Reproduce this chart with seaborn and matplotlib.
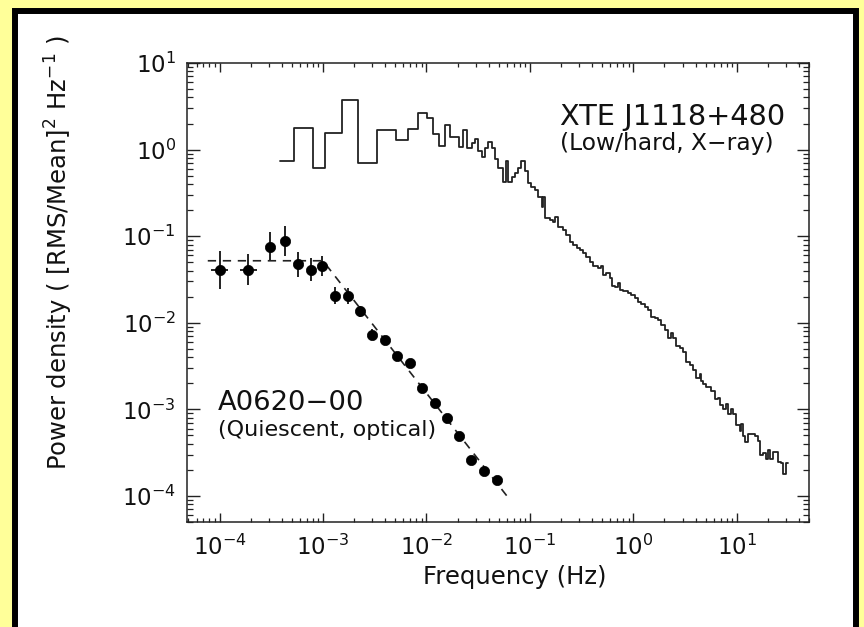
import numpy as np
import pandas as pd
import matplotlib
matplotlib.use("Agg")
import matplotlib.pyplot as plt
from matplotlib.patches import Rectangle
import seaborn as sns

# ---------------- data ----------------
# A0620-00 (quiescent, optical) power density points
a0620_freq = [1.0e-4, 1.9e-4, 3.1e-4, 4.3e-4, 5.7e-4, 7.6e-4, 9.9e-4, 1.31e-3, 1.73e-3,
              2.28e-3, 2.99e-3, 3.97e-3, 5.22e-3, 6.89e-3, 9.12e-3, 1.20e-2, 1.57e-2,
              2.08e-2, 2.73e-2, 3.60e-2, 4.80e-2]
a0620_power = [0.0407, 0.0407, 0.0753, 0.0869, 0.0477, 0.0407, 0.0452, 0.0206, 0.0205,
               0.0135, 0.00728, 0.00626, 0.00418, 0.00344, 0.00177, 0.00119, 7.94e-4,
               4.86e-4, 2.59e-4, 1.94e-4, 1.54e-4]
a0620_power_lo = [0.0244, 0.0274, 0.052, 0.059, 0.034, 0.030, 0.035, 0.0165, 0.0166,
                  0.0118, 0.0063, 0.0055, 0.0038, 0.0031, 0.00162, 0.00109, 7.3e-4,
                  4.5e-4, 2.4e-4, 1.8e-4, 1.43e-4]
a0620_power_hi = [0.0676, 0.0616, 0.112, 0.130, 0.066, 0.0555, 0.059, 0.026, 0.0255,
                  0.0155, 0.0084, 0.0071, 0.0046, 0.0038, 0.00193, 0.00130, 8.6e-4,
                  5.3e-4, 2.8e-4, 2.1e-4, 1.66e-4]
a0620_freq_lo = [8.3e-5, 1.59e-4] + a0620_freq[2:]
a0620_freq_hi = [1.2e-4, 2.29e-4] + a0620_freq[2:]

# broken power-law model (dashed line)
model_freq = [7.7e-5, 1.0e-3, 6.0e-2]
model_power = [0.052, 0.052, 1.0e-4]

# XTE J1118+480 (low/hard, X-ray) binned power spectrum: left bin edges and power
xte_edges = [3.84e-4, 5.28e-4, 7.95e-4, 1.045e-3, 1.537e-3, 2.19e-3, 3.35e-3, 5.11e-3,
             6.67e-3, 8.28e-3, 1.004e-2, 1.163e-2, 1.312e-2, 1.509e-2, 1.687e-2,
             2.075e-2, 2.268e-2, 2.446e-2, 2.734e-2, 2.942e-2, 3.166e-2, 3.415e-2,
             3.675e-2, 3.955e-2, 4.266e-2, 4.589e-2, 4.94e-2, 5.48e-2, 5.93e-2, 6.13e-2,
             6.70e-2, 7.16e-2, 7.66e-2, 8.19e-2, 8.95e-2, 9.63e-2, 0.1038, 0.1118,
             0.1203, 0.1297, 0.1344, 0.1396, 0.1561, 0.1668, 0.1744, 0.1877, 0.2097,
             0.2262, 0.2435, 0.2620, 0.2827, 0.3042, 0.3273, 0.3530, 0.380, 0.409,
             0.457, 0.493, 0.511, 0.551, 0.593, 0.624, 0.663, 0.713, 0.752, 0.797,
             0.891, 0.961, 1.034, 1.113, 1.200, 1.291, 1.390, 1.499, 1.613, 1.736,
             1.873, 2.015, 2.169, 2.340, 2.424, 2.615, 2.814, 3.029, 3.266, 3.515,
             3.783, 4.08, 4.39, 4.56, 4.72, 5.10, 5.70, 6.13, 6.60, 6.85, 7.37, 7.95,
             8.24, 8.89, 9.21, 9.93, 10.69, 11.10, 11.51, 12.11, 12.86, 14.93, 16.06,
             16.68, 17.95, 19.36, 20.06, 21.17, 22.42, 25.06, 27.04, 28.02, 30.22, 31.1]
xte_power = [0.747, 1.776, 0.610, 1.568, 3.727, 0.703, 1.684, 1.279, 1.712, 2.613, 2.314,
             1.515, 1.112, 1.938, 1.385, 1.063, 1.684, 1.046, 1.181, 1.327, 0.974,
             0.831, 1.054, 1.236, 1.054, 0.788, 0.605, 0.4175, 0.747, 0.4175, 0.4767,
             0.530, 0.621, 0.747, 0.559, 0.4066, 0.366, 0.338, 0.2807, 0.2154, 0.2807,
             0.161, 0.1527, 0.1448, 0.1654, 0.1269, 0.1172, 0.1027, 0.0853, 0.0788,
             0.0728, 0.0690, 0.0638, 0.0574, 0.0503, 0.0452, 0.0429, 0.0452, 0.0356,
             0.0376, 0.0329, 0.0266, 0.0259, 0.0288, 0.0239, 0.0233, 0.0221, 0.0210,
             0.0194, 0.01743, 0.01654, 0.01527, 0.01411, 0.01172, 0.01141, 0.01083,
             0.00948, 0.00831, 0.00672, 0.00767, 0.00672, 0.00544, 0.00516, 0.00464,
             0.00356, 0.00329, 0.00288, 0.00233, 0.00253, 0.00210, 0.00194, 0.00179,
             0.00161, 0.00130, 0.00137, 0.00111, 0.00100, 0.00114, 0.000876, 0.00100,
             0.000876, 0.000655, 0.000559, 0.000672, 0.000490, 0.000418, 0.000516,
             0.000490, 0.000429, 0.000296, 0.000312, 0.000266, 0.000338, 0.000266,
             0.000320, 0.000246, 0.000239, 0.000179, 0.000239]

x_ticks = [1e-4, 1e-3, 1e-2, 1e-1, 1e0, 1e1]
y_ticks = [1e-4, 1e-3, 1e-2, 1e-1, 1e0, 1e1]

# ---------------- figure ----------------
sns.set_theme(style="ticks")
plt.rcParams["font.family"] = ["DejaVu Sans"]
plt.rcParams["mathtext.fontset"] = "dejavusans"

W, H = 864, 627
fig = plt.figure(figsize=(W / 100, H / 100), dpi=100, facecolor="#FFFF99")

# white panel with thick black frame (runs off the bottom)
panel = Rectangle((15 / W, -0.05), (856 - 15) / W, 1.05 - 11 / H, transform=fig.transFigure,
                  facecolor="white", edgecolor="black", linewidth=4.3, zorder=-10)
fig.patches.append(panel)

ax = fig.add_axes([187 / W, 1 - 522 / H, (809 - 187) / W, (522 - 63) / H])
ax.set_zorder(5)
ax.set_facecolor("none")
ax.patch.set_alpha(0)
ax.set_xscale("log")
ax.set_yscale("log")

# XTE J1118+480 histogram
xte_df = pd.DataFrame({"f": xte_edges, "p": xte_power + [xte_power[-1]]})
sns.lineplot(data=xte_df, x="f", y="p", ax=ax, color="#222222", lw=1.3,
             drawstyle="steps-post", estimator=None, sort=False)

# model dashed line
model_df = pd.DataFrame({"f": model_freq, "p": model_power})
sns.lineplot(data=model_df, x="f", y="p", ax=ax, color="#222222", lw=1.2,
             linestyle=(0, (5, 4)), estimator=None, sort=False)

# A0620-00 points with error bars
fa = np.array(a0620_freq)
pa = np.array(a0620_power)
yerr = [pa - np.array(a0620_power_lo), np.array(a0620_power_hi) - pa]
xerr = [fa - np.array(a0620_freq_lo), np.array(a0620_freq_hi) - fa]
ax.errorbar(fa, pa, yerr=yerr, xerr=xerr, fmt="none", ecolor="#222222", elinewidth=1.4,
            capsize=0, zorder=3)
a_df = pd.DataFrame({"f": a0620_freq, "p": a0620_power})
sns.scatterplot(data=a_df, x="f", y="p", ax=ax, color="black", s=55, edgecolor="black",
                linewidth=0.5, zorder=4)

ax.set_xlim(4.85e-5, 50)
ax.set_ylim(5.0e-5, 10)
ax.set_xticks(x_ticks)
ax.set_yticks(y_ticks)

for s in ax.spines.values():
    s.set_linewidth(1.1)
    s.set_color("#222222")
    s.set_visible(True)

ax.tick_params(which="both", direction="in", top=True, right=True, color="#222222",
               labelsize=16.5, labelcolor="#111111")
ax.tick_params(axis="x", which="major", length=6.5, width=1.0, pad=9)
ax.tick_params(axis="x", which="minor", length=3.0, width=0.9)
ax.tick_params(axis="y", which="major", length=9.0, width=1.0, pad=8)
ax.tick_params(axis="y", which="minor", length=4.3, width=0.9)

ax.set_xlabel("Frequency (Hz)", fontsize=17.5, color="#111111")
ax.set_ylabel("Power density ( [RMS/Mean]$^2$ Hz$^{-1}$ )", fontsize=17.5, color="#111111")
ax.xaxis.set_label_coords((515 - 187) / 622, (522 - 565) / 459)
ax.yaxis.set_label_coords((75 - 187) / 622, (522 - 253) / 459)

ax.text((560 - 187) / 622, (522 - 125) / 459, "XTE J1118+480", transform=ax.transAxes,
        fontsize=20.7, color="#111111", ha="left", va="baseline")
ax.text((560 - 187) / 622, (522 - 150) / 459, "(Low/hard, X\u2212ray)", transform=ax.transAxes,
        fontsize=16.8, color="#111111", ha="left", va="baseline")
ax.text((218 - 187) / 622, (522 - 410) / 459, "A0620\u221200", transform=ax.transAxes,
        fontsize=19.7, color="#111111", ha="left", va="baseline")
ax.text((218 - 187) / 622, (522 - 436) / 459, "(Quiescent, optical)", transform=ax.transAxes,
        fontsize=16, color="#111111", ha="left", va="baseline")

fig.savefig("out.png", dpi=100, facecolor=fig.get_facecolor())
